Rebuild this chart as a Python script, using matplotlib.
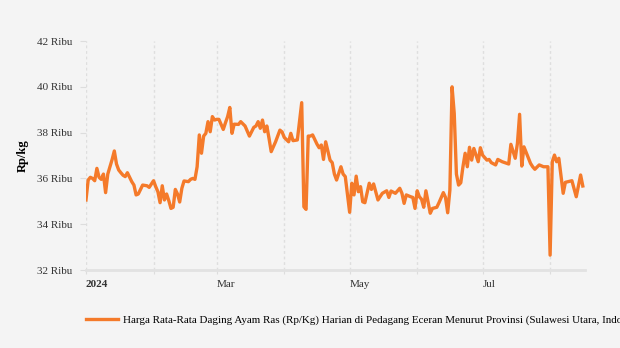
import numpy as np
import matplotlib
matplotlib.use('Agg')
import matplotlib.pyplot as plt
import matplotlib.transforms as mtransforms

plt.rcParams['font.family'] = ['Liberation Serif', 'DejaVu Serif']

# days after 1 Jan 2024, and price in thousand Rp/kg
day = [0, 1, 2, 3, 4, 5, 6, 7, 8, 9, 10, 12, 13, 14, 15, 16, 17, 18, 19, 21,
       22, 23, 24, 26, 28, 29, 31, 32, 33, 34, 35, 36, 37, 38, 39, 40, 41, 42, 43, 44,
       45, 47, 48, 49, 50, 51, 52, 53, 54, 55, 56, 57, 58, 59, 60, 61, 63, 64, 65, 66,
       67, 68, 70, 71, 73, 74, 75, 77, 78, 79, 80, 81, 82, 83, 84, 85, 87, 89, 90, 91,
       93, 94, 95, 97, 99, 100, 101, 102, 103, 104, 106, 107, 108, 109, 110, 112, 113, 114, 115, 117,
       118, 119, 121, 122, 123, 124, 125, 126, 127, 128, 130, 131, 132, 134, 136, 138, 139, 140, 142, 144,
       145, 146, 147, 149, 150, 151, 152, 153, 154, 155, 156, 157, 158, 159, 161, 162, 164, 165, 166, 167,
       168, 169, 170, 171, 172, 173, 174, 175, 176, 177, 178, 180, 181, 182, 184, 185, 186, 188, 189, 191,
       194, 195, 197, 198, 199, 200, 201, 204, 205, 206, 208, 210, 212, 213, 214, 215, 216, 217, 219, 220,
       223, 225, 227, 228]
harga = [35.06, 35.93, 36.05, 36.00, 35.90, 36.44, 36.05, 35.96, 36.19, 35.38, 36.19, 36.83, 37.20, 36.63, 36.37, 36.25, 36.14, 36.08, 36.25, 35.86,
         35.71, 35.28, 35.32, 35.71, 35.68, 35.61, 35.90, 35.64, 35.42, 34.94, 35.68, 35.06, 35.32, 35.03, 34.69, 34.74, 35.52, 35.32, 34.97, 35.57,
         35.89, 35.86, 35.96, 36.00, 35.96, 36.51, 37.90, 37.10, 37.85, 37.97, 38.48, 38.04, 38.70, 38.55, 38.58, 38.58, 38.14, 38.43, 38.70, 39.10,
         37.97, 38.37, 38.36, 38.48, 38.29, 38.07, 37.85, 38.23, 38.29, 38.48, 38.19, 38.55, 38.04, 38.29, 37.75, 37.17, 37.60, 38.11, 38.03, 37.79,
         37.60, 37.97, 37.65, 37.68, 39.31, 34.76, 34.65, 37.85, 37.85, 37.90, 37.50, 37.34, 37.46, 36.83, 37.60, 36.80, 36.69, 36.19, 35.93, 36.51,
         36.19, 36.08, 34.52, 35.79, 35.28, 36.10, 35.42, 35.64, 34.98, 34.94, 35.79, 35.52, 35.76, 35.06, 35.35, 35.46, 35.17, 35.45, 35.35, 35.57,
         35.35, 34.91, 35.28, 35.20, 35.17, 34.69, 35.46, 35.20, 35.09, 34.74, 35.46, 34.98, 34.48, 34.69, 34.74, 34.94, 35.38, 35.17, 34.50, 35.49,
         40.00, 38.84, 36.19, 35.71, 35.81, 36.51, 37.10, 36.51, 37.36, 36.80, 37.31, 36.73, 37.34, 37.02, 36.80, 36.83, 36.69, 36.59, 36.83, 36.73,
         36.63, 37.49, 36.88, 37.53, 38.80, 36.54, 37.38, 36.66, 36.51, 36.40, 36.59, 36.51, 36.51, 32.65, 36.73, 37.02, 36.73, 36.88, 35.35, 35.83,
         35.90, 35.20, 36.15, 35.67]

y_ticks = [32, 34, 36, 38, 40, 42]
xlabels = ['2024', '', 'Mar', '', 'May', '', 'Jul', '']
series_label = ('Harga Rata-Rata Daging Ayam Ras (Rp/Kg) Harian di Pedagang Eceran '
                'Menurut Provinsi (Sulawesi Utara, Indonesia)')

bg = '#f4f4f4'
orange = '#f47a2a'

dates = np.datetime64('2024-01-01') + np.array(day).astype('timedelta64[D]')
values = np.array(harga) * 1000

fig = plt.figure(figsize=(6.2, 3.48), dpi=100, facecolor=bg)
ax = fig.add_axes([0.1387, 0.2241, 0.8048, 0.6579])
ax.set_facecolor(bg)

line, = ax.plot(dates, values, color=orange, lw=2.4, solid_joinstyle='round',
                label=series_label)

ax.set_ylim(32000, 42000)
ax.set_xlim(np.datetime64('2024-01-01'), np.datetime64('2024-08-17'))
ax.set_yticks([v * 1000 for v in y_ticks])
ax.set_yticklabels(['%d Ribu' % v for v in y_ticks])

months = [np.datetime64('2024-%02d-01' % m) for m in range(1, 9)]
ax.set_xticks(months)
ax.set_xticklabels(xlabels, ha='left')
shift = mtransforms.ScaledTranslation(0.03, 0, fig.dpi_scale_trans)
for lab in ax.get_xticklabels():
    lab.set_transform(lab.get_transform() + shift)
    if lab.get_text() == '2024':
        lab.set_fontweight('bold')

for m in months:
    ax.axvline(m, color='#dedede', lw=1, ls=(0, (2, 2)), zorder=0)

for s in ['top', 'right', 'left']:
    ax.spines[s].set_visible(False)
ax.spines['bottom'].set_color('#e2e2e2')
ax.spines['bottom'].set_linewidth(2)

ax.tick_params(axis='y', length=4, color='#dddddd', labelsize=8, labelcolor='#333333', pad=6)
ax.tick_params(axis='x', length=3, color='#dddddd', labelsize=8, labelcolor='#333333', pad=4)

ax.set_ylabel('Rp/kg', fontsize=9, fontweight='bold', labelpad=6)

fig.legend(handles=[line], loc='center left', bbox_to_anchor=(0.1387, 0.081),
           frameon=False, fontsize=7.9, handlelength=2.9, handletextpad=0.45,
           borderpad=0, borderaxespad=0)

fig.savefig('out.png', dpi=100, facecolor=bg)
